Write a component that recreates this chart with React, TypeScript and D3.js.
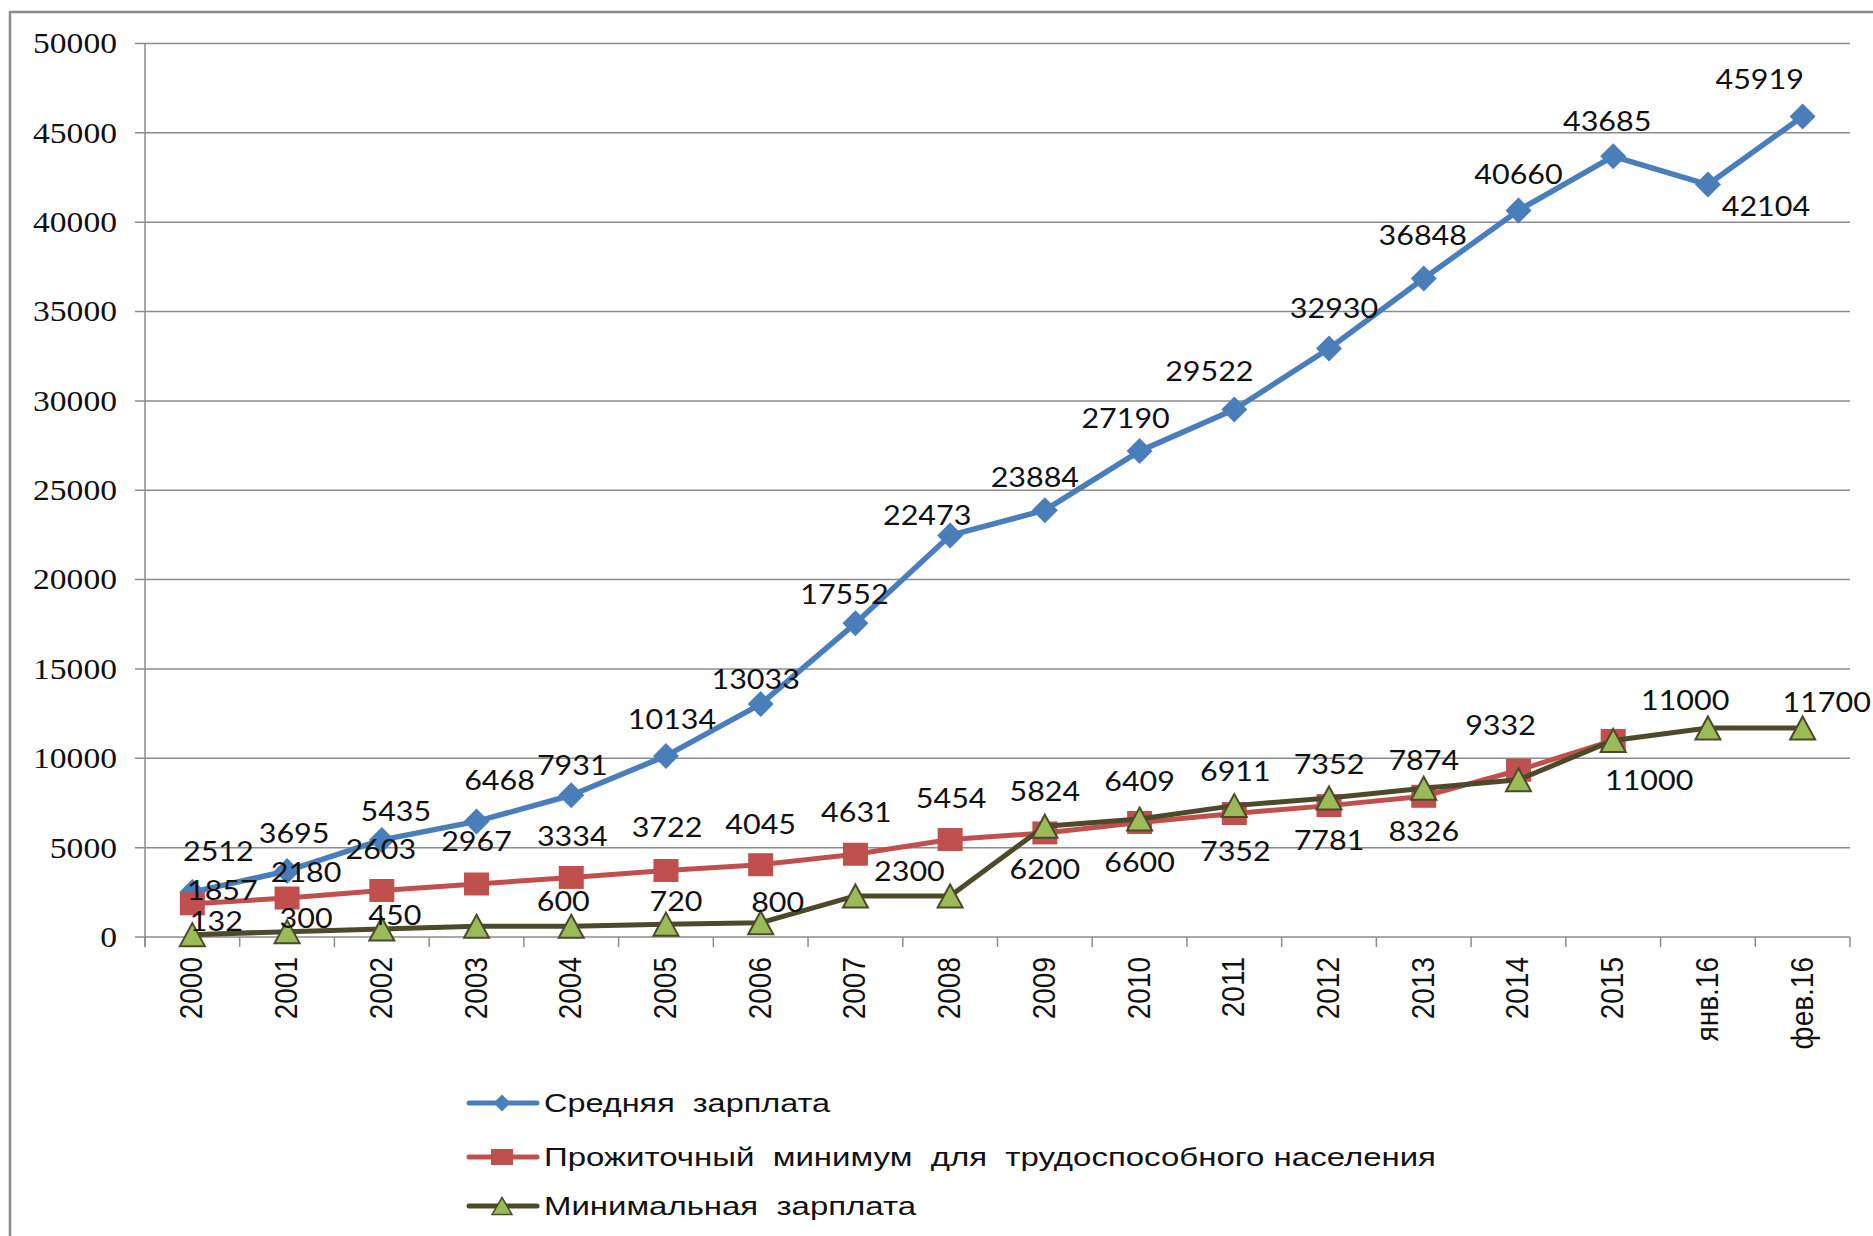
import React from 'react';
import * as d3 from 'd3';

const categories = ['2000','2001','2002','2003','2004','2005','2006','2007','2008','2009','2010','2011','2012','2013','2014','2015','янв.16','фев.16'];
const avgWage = [2512,3695,5435,6468,7931,10134,13033,17552,22473,23884,27190,29522,32930,36848,40660,43685,42104,45919];
const livingMin = [1857,2180,2603,2967,3334,3722,4045,4631,5454,5824,6409,6911,7352,7874,9332,11000];
const minWage = [132,300,450,600,600,720,800,2300,2300,6200,6600,7352,7781,8326,8800,11000,11700,11700];
const yTicks = [0,5000,10000,15000,20000,25000,30000,35000,40000,45000,50000];
const seriesNames = ['Средняя  зарплата','Прожиточный  минимум  для  трудоспособного населения','Минимальная  зарплата'];

// label placement offsets (layout only)
const avgLabelOff: ([number, number] | null)[] = [[26,-41],[7,-38],[14,-29],[23,-42],[1,-30],[6,-37],[-5,-25],[-11,-30],[-23,-21],[-10,-33],[-14,-33],[-25,-39],[5,-41],[-1,-44],[0,-37],[-6,-36],[58,21],[-43,-38]];
const livLabelOff: ([number, number] | null)[] = [[30,-14],[19,-26],[-1,-42],[0,-43],[1,-42],[1,-44],[0,-41],[1,-42],[1,-42],[0,-42],[0,-42],[1,-43],[0,-42],[0,-36],[-18,-45],[36,39]];
const minLabelOff: ([number, number] | null)[] = [[24,-14],[19,-14],[13,-14],null,[-8,-25],[10,-23],[17,-21],[54,-25],null,[0,43],[0,43],[1,45],[0,42],[0,43],null,[72,-41],null,[24,-26]];

const W = 1873, H = 1236;
const left = 145, right = 1850, top = 43.5, bottom = 937;

const BLUE = '#4A7EBB';
const RED = '#C0504D';
const OLIVE = '#4D4A2C';
const GREEN = '#9BBB59';
const GRID = '#8c8c8c';

export default function App() {
  const x = d3.scaleBand<string>().domain(categories).range([left, right]).padding(0);
  const cx = (i: number) => (x(categories[i]) as number) + x.bandwidth() / 2;
  const y = d3.scaleLinear().domain([0, 50000]).range([bottom, top]);
  const line = d3.line<number>().x((_, i) => cx(i)).y(d => y(d));

  const diamond = (px: number, py: number, r: number) => `M${px},${py - r}L${px + r},${py}L${px},${py + r}L${px - r},${py}Z`;
  const triangle = (px: number, py: number, w: number, h: number) => `M${px},${py - h / 2}L${px + w / 2},${py + h / 2}L${px - w / 2},${py + h / 2}Z`;

  const labelFont = { fontFamily: 'Lato, "Open Sans", sans-serif', fontSize: 26.5, fill: '#111' };

  const labels = (vals: number[], offs: ([number, number] | null)[], key: string) =>
    vals.map((v, i) => {
      const o = offs[i];
      if (!o) return null;
      return (
        <text key={key + i} transform={`translate(${cx(i) + o[0]},${y(v) + o[1]}) scale(1.15,1)`} textAnchor="middle" dominantBaseline="central" {...labelFont}>
          {v}
        </text>
      );
    });

  const boundaries = d3.range(categories.length + 1).map(i => left + i * x.bandwidth());

  const legendY = [1103, 1157, 1206];
  const legendLen = [286, 892, 372];

  return (
    <svg width={W} height={H} style={{ position: 'absolute', left: 0, top: 0, background: '#fff' }}>
      <rect x={0} y={0} width={W} height={H} fill="#fff" />
      <rect x={10} y={12} width={W + 50} height={H + 50} fill="none" stroke="#8a8a8a" strokeWidth={2.5} />
      {yTicks.map(t => (
        <line key={'g' + t} x1={135} x2={right} y1={y(t)} y2={y(t)} stroke={GRID} strokeWidth={1.5} />
      ))}
      <line x1={left} x2={left} y1={top} y2={bottom + 10} stroke={GRID} strokeWidth={1.5} />
      {boundaries.map((b, i) => (
        <line key={'t' + i} x1={b} x2={b} y1={bottom} y2={bottom + 10} stroke={GRID} strokeWidth={1.5} />
      ))}
      {yTicks.map(t => (
        <text key={'yl' + t} transform={`translate(117,${y(t)}) scale(1.12,1)`} textAnchor="end" dominantBaseline="central" fontFamily='"Liberation Serif", "DejaVu Serif", serif' fontSize={30} fill="#111">
          {t}
        </text>
      ))}
      {categories.map((c, i) => (
        <text key={'xl' + i} transform={`translate(${cx(i) - 1},957) rotate(-90) scale(1,1.1)`} textAnchor="end" dominantBaseline="central" fontFamily='"Liberation Sans", Arial, sans-serif' fontSize={28} fill="#111">
          {c}
        </text>
      ))}
      <path d={line(avgWage) as string} fill="none" stroke={BLUE} strokeWidth={5.5} strokeLinejoin="round" />
      {avgWage.map((v, i) => (
        <path key={'bm' + i} d={diamond(cx(i), y(v), 13)} fill={BLUE} />
      ))}
      <path d={line(livingMin) as string} fill="none" stroke={RED} strokeWidth={5} strokeLinejoin="round" />
      {livingMin.map((v, i) => (
        <rect key={'rm' + i} x={cx(i) - 12.5} y={y(v) - 11.5} width={25} height={23} fill={RED} />
      ))}
      <path d={line(minWage) as string} fill="none" stroke={OLIVE} strokeWidth={5} strokeLinejoin="round" />
      {minWage.map((v, i) => (
        <path key={'gm' + i} d={triangle(cx(i), y(v), 25, 23)} fill={GREEN} stroke={OLIVE} strokeWidth={2} strokeLinejoin="miter" />
      ))}
      {labels(avgWage, avgLabelOff, 'la')}
      {labels(livingMin, livLabelOff, 'll')}
      {labels(minWage, minLabelOff, 'lm')}
      {seriesNames.map((n, i) => {
        const ly = legendY[i];
        const mx = 502;
        const col = i === 0 ? BLUE : i === 1 ? RED : OLIVE;
        return (
          <g key={'lg' + i}>
            <line x1={469} x2={537} y1={ly} y2={ly} stroke={col} strokeWidth={5} strokeLinecap="round" />
            {i === 0 && <path d={diamond(mx, ly, 8.5)} fill={BLUE} />}
            {i === 1 && <rect x={mx - 11} y={ly - 8} width={22} height={16} fill={RED} />}
            {i === 2 && <path d={triangle(mx, ly, 20, 17)} fill={GREEN} stroke={OLIVE} strokeWidth={1.5} />}
            <text x={544} y={ly} dominantBaseline="central" fontFamily='"Liberation Sans", Arial, sans-serif' fontSize={25} fill="#111" textLength={legendLen[i]} lengthAdjust="spacingAndGlyphs" style={{ whiteSpace: 'pre' }}>
              {n}
            </text>
          </g>
        );
      })}
    </svg>
  );
}
